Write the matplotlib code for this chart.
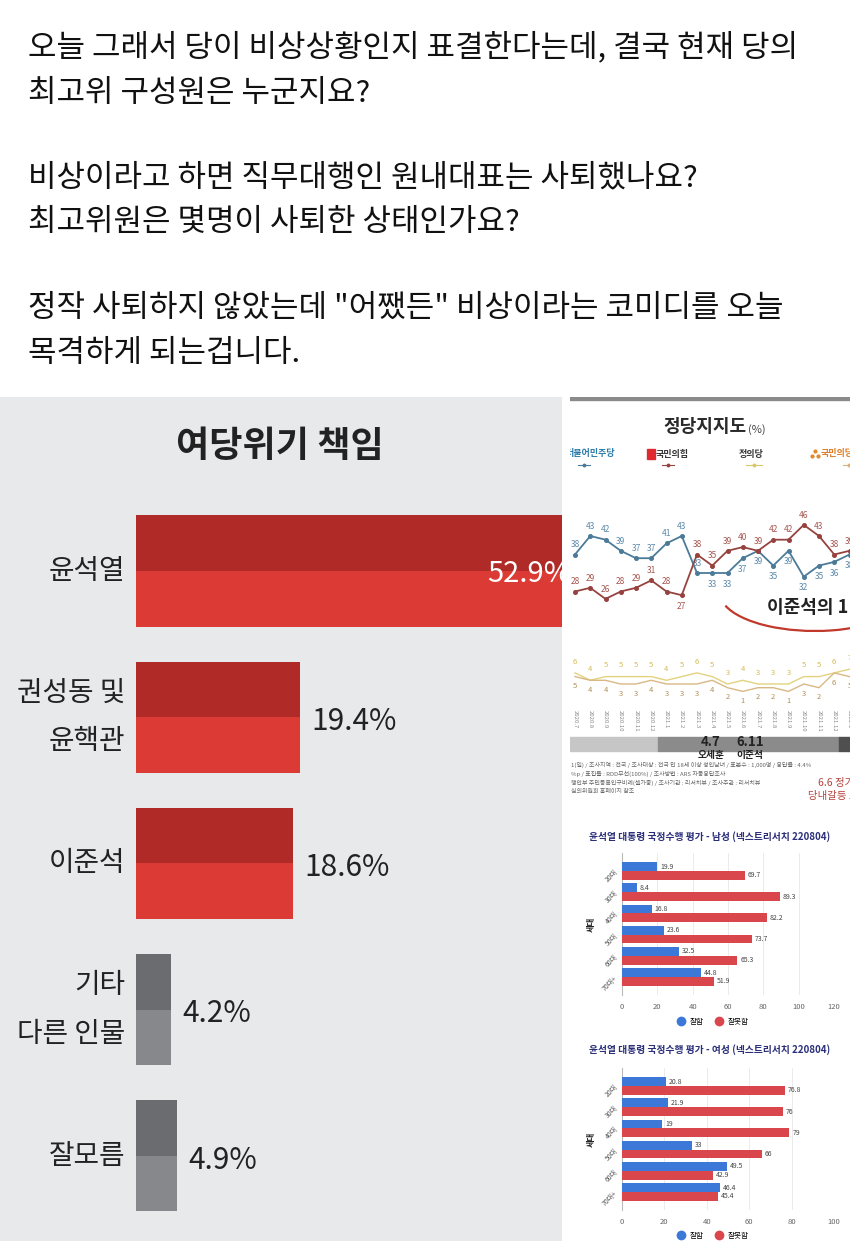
import matplotlib
matplotlib.use('Agg')
import matplotlib.pyplot as plt
from matplotlib.patches import Rectangle, Arc
from matplotlib.lines import Line2D

plt.rcParams['font.family'] = ['Noto Sans CJK KR', 'DejaVu Sans']

W, H = 850, 1241

# ---- post text ----
post_lines = [
    '오늘 그래서 당이 비상상황인지 표결한다는데, 결국 현재 당의',
    '최고위 구성원은 누군지요?',
    '비상이라고 하면 직무대행인 원내대표는 사퇴했나요?',
    '최고위원은 몇명이 사퇴한 상태인가요?',
    '정작 사퇴하지 않았는데 "어쨌든" 비상이라는 코미디를 오늘',
    '목격하게 되는겁니다.',
]
post_y = [47, 93, 178, 222, 308, 354]

# ---- left chart: 여당위기 책임 ----
resp_title = '여당위기 책임'
resp_labels = ['윤석열', '권성동 및\n윤핵관', '이준석', '기타\n다른 인물', '잘모름']
resp_values = [52.9, 19.4, 18.6, 4.2, 4.9]
resp_red = [True, True, True, False, False]

# ---- party support line chart ----
months = ['2020.7', '2020.8', '2020.9', '2020.10', '2020.11', '2020.12',
          '2021.1', '2021.2', '2021.3', '2021.4', '2021.5', '2021.6',
          '2021.7', '2021.8', '2021.9', '2021.10', '2021.11', '2021.12', '2022.1']
minjoo = [38, 43, 42, 39, 37, 37, 41, 43, 33, 33, 33, 37, 39, 35, 39, 32, 35, 36, 38]
ppp = [28, 29, 26, 28, 29, 31, 28, 27, 38, 35, 39, 40, 39, 42, 42, 46, 43, 38, 39]
justice = [6, 4, 5, 5, 5, 5, 4, 5, 6, 5, 3, 4, 3, 3, 3, 5, 5, 6, 7]
people = [5, 4, 4, 3, 3, 4, 3, 3, 3, 4, 2, 1, 2, 2, 1, 3, 2, 6, 5]

# ---- approval by age ----
ages = ['20대', '30대', '40대', '50대', '60대', '70대+']
male_good = [19.9, 8.4, 16.8, 23.6, 32.5, 44.8]
male_bad = [69.7, 89.3, 82.2, 73.7, 65.3, 51.9]
female_good = [20.8, 21.9, 19, 33, 49.5, 46.4]
female_bad = [76.8, 76, 79, 66, 42.9, 45.4]


def px_axes(x, y, w, h, **kw):
    return fig.add_axes([x / W, 1 - (y + h) / H, w / W, h / H], **kw)


fig = plt.figure(figsize=(W / 100, H / 100), dpi=100)

for s, y in zip(post_lines, post_y):
    fig.text(28 / W, 1 - y / H, s, fontsize=22.3, color='#111111', va='center', ha='left')

# left panel
axl = px_axes(0, 397, 562, H - 397, facecolor='#e8e9eb')
for sp in axl.spines.values():
    sp.set_visible(False)
axl.set_xticks([])
axl.set_yticks([])
scale = 8.45  # px per percent
x0 = 136
axl.set_xlim(-x0 / scale, (562 - x0) / scale)
step, c0 = 146.2, 571
axl.set_ylim((H - c0) / step, (397 - c0) / step)
bh = 0.76
for i, (lab, v, red) in enumerate(zip(resp_labels, resp_values, resp_red)):
    light = '#dc3b35' if red else '#87888b'
    dark = '#b02b28' if red else '#6a6c70'
    axl.barh(i, v, height=bh, color=light, zorder=2)
    axl.barh(i - bh / 4, v, height=bh / 2, color=dark, zorder=3)
    axl.text(-11 / scale, i, lab, ha='right', va='center', fontsize=20,
             color='#222222', linespacing=1.8, zorder=4)
    if v > axl.get_xlim()[1]:
        axl.text((487 - x0) / scale, i + 0.02, f'{v}%', ha='left', va='center', fontsize=21,
                 color='white', zorder=4, clip_on=True)
    else:
        axl.text(v + 11 / scale, i + 0.03, f'{v}%', ha='left', va='center', fontsize=21.5,
                 color='#222222', zorder=4)
fig.text(280 / W, 1 - 447 / H, resp_title, ha='center', va='center', fontsize=26,
         fontweight='bold', color='#222222')

# right panel background / decorations (pixel coords)
axp = px_axes(570, 397, 280, 418)
axp.set_xlim(570, 850)
axp.set_ylim(815, 397)
axp.axis('off')
axp.add_patch(Rectangle((570, 396), 280, 4, color='#8a8a8a', clip_on=True))
axp.text(747, 427, '정당지지도', ha='right', va='center', fontsize=13, fontweight='bold', color='#2a2a2a')
axp.text(748, 430, '(%)', ha='left', va='center', fontsize=8, color='#444444')
axp.text(615, 454, '더불어민주당', ha='right', va='center', fontsize=6.5, fontweight='bold',
         color='#2a7aa8', clip_on=True)
axp.add_patch(Rectangle((647, 449), 8, 10, color='#e0292e'))
axp.text(656, 454, '국민의힘', ha='left', va='center', fontsize=6.5, fontweight='bold', color='#333333')
axp.text(739, 455, '정의당', ha='left', va='center', fontsize=6.5, fontweight='bold', color='#333333')
axp.plot([812, 815, 818], [456, 451, 456], 'o', color='#e08a2a', markersize=2, clip_on=True)
axp.text(821, 454, '국민의당', ha='left', va='center', fontsize=6.5, fontweight='bold',
         color='#e07b25', clip_on=True)
for xa, xb, c in [(578, 590, '#4b7b98'), (662, 674, '#96433f'), (746, 762, '#d9c76a'), (843, 855, '#d8b27a')]:
    axp.add_line(Line2D([xa, xb], [465, 465], color=c, lw=0.8, clip_on=True))
    axp.plot([(xa + xb) / 2], [465], 'o', color=c, markersize=1.8, clip_on=True)

axp.add_patch(Arc((815, 593), 190, 76, theta1=0, theta2=172, color='#c0392b', lw=1.6))
axp.text(767, 608, '이준석의 1', ha='left', va='center', fontsize=13, fontweight='bold',
         color='#222222', clip_on=True)

axp.add_patch(Rectangle((570, 737), 88, 14, color='#c6c6c6'))
axp.add_patch(Rectangle((658, 737), 181, 14, color='#8b8b8b'))
axp.add_patch(Rectangle((839, 737), 12, 14, color='#4f4f4f', clip_on=True))
axp.text(711, 742, '4.7', ha='center', va='center', fontsize=9.5, fontweight='bold', color='#222222')
axp.text(750, 742, '6.11', ha='center', va='center', fontsize=9.5, fontweight='bold', color='#222222')
axp.text(711, 755, '오세훈', ha='center', va='center', fontsize=7, fontweight='bold', color='#222222')
axp.text(750, 755, '이준석', ha='center', va='center', fontsize=7, fontweight='bold', color='#222222')

notes = ['1(일) / 조사지역 : 전국 / 조사대상 : 전국 만 18세 이상 성인남녀 / 표본수 : 1,000명 / 응답률 : 4.4%',
         '%p / 표집틀 : RDD무선(100%) / 조사방법 : ARS 자동응답조사',
         '행안부 주민등록인구비례(셀가중) / 조사기관 : 리서치뷰 / 조사주관 : 리서치뷰',
         '심의위원회 홈페이지 참조']
for k, s in enumerate(notes):
    axp.text(571, 765 + 9 * k, s, ha='left', va='center', fontsize=4.3, color='#666666', clip_on=True)
axp.text(818, 783, '6.6 정가', ha='left', va='center', fontsize=7.5, color='#b5423a', clip_on=True)
axp.text(808, 796, '당내갈등 표', ha='left', va='center', fontsize=7.5, color='#b5423a', clip_on=True)

# line chart
axc = px_axes(570, 470, 280, 236)
axc.patch.set_alpha(0)
xs = list(range(len(months)))
axc.set_xlim(-5 / 15.25, 275 / 15.25)
axc.set_ylim(43 - 170 / 3.7, 43 + 66 / 3.7)
for sp in axc.spines.values():
    sp.set_visible(False)
axc.set_yticks([])
axc.set_xticks(xs)
axc.set_xticklabels(months, rotation=-90, fontsize=4.3, color='#888888')
axc.tick_params(axis='x', length=0, pad=3)

axc.plot(xs, justice, color='#e3d27e', lw=1.0)
axc.plot(xs, people, color='#d9b884', lw=1.0)
axc.plot(xs, minjoo, color='#4b7b98', lw=1.3, marker='o', markersize=2.6)
axc.plot(xs, ppp, color='#96433f', lw=1.3, marker='o', markersize=2.6)

for i in xs:
    up = minjoo[i] > ppp[i] or i == 8
    axc.annotate(str(minjoo[i]), (i, minjoo[i]), xytext=(0, 7 if up else -8),
                 textcoords='offset points', ha='center', va='center', fontsize=6, color='#5b88a8')
    down = i == 7
    axc.annotate(str(ppp[i]), (i, ppp[i]), xytext=(0, -8 if down else 7),
                 textcoords='offset points', ha='center', va='center', fontsize=6, color='#a5564f')
    axc.annotate(str(justice[i]), (i, justice[i]), xytext=(0, 8), textcoords='offset points',
                 ha='center', va='center', fontsize=5.5, color='#d4bb52')
    axc.annotate(str(people[i]), (i, people[i]), xytext=(0, -7), textcoords='offset points',
                 ha='center', va='center', fontsize=5.5, color='#b0905a')


def age_chart(y0, good, bad, xmax, title, title_y, leg_y):
    ax = px_axes(622, y0, 212, 142)
    pos = list(range(len(ages)))
    h = 0.42
    ax.barh([p - h / 2 for p in pos], good, height=h, color='#3b78d8', label='잘함', zorder=3)
    ax.barh([p + h / 2 for p in pos], bad, height=h, color='#d9464b', label='잘못함', zorder=3)
    for p, g, b in zip(pos, good, bad):
        ax.annotate(f'{g:g}', (g, p - h / 2), xytext=(2, 0), textcoords='offset points',
                    ha='left', va='center', fontsize=5, color='#444444')
        ax.annotate(f'{b:g}', (b, p + h / 2), xytext=(2, 0), textcoords='offset points',
                    ha='left', va='center', fontsize=5, color='#444444')
    ax.set_xlim(0, xmax)
    ax.set_ylim(5.85, -0.85)
    ax.set_xticks(range(0, xmax + 1, 20))
    ax.tick_params(axis='x', length=0, labelsize=5.5, labelcolor='#666666', pad=6)
    ax.set_yticks(pos)
    ax.set_yticklabels(ages, rotation=45, fontsize=5, color='#555555')
    ax.tick_params(axis='y', length=0, pad=2)
    ax.grid(axis='x', color='#e8e8e8', lw=0.6, zorder=0)
    for k in ['top', 'right', 'bottom']:
        ax.spines[k].set_visible(False)
    ax.spines['left'].set_color('#bbbbbb')
    ax.set_ylabel('세대', fontsize=6, fontweight='bold', color='#222222', labelpad=4)
    handles = [Line2D([], [], marker='o', ls='', color='#3b78d8', markersize=6, label='잘함'),
               Line2D([], [], marker='o', ls='', color='#d9464b', markersize=6, label='잘못함')]
    ax.legend(handles=handles, loc='center', bbox_to_anchor=(0.42, 1 - (leg_y - y0) / 142),
              ncol=2, frameon=False, fontsize=5.5, handletextpad=0.2, columnspacing=0.9)
    fig.text(710 / W, 1 - title_y / H, title, ha='center', va='center', fontsize=7,
             fontweight='bold', color='#2b2f7a')


age_chart(853, male_good, male_bad, 120,
          '윤석열 대통령 국정수행 평가 - 남성 (넥스트리서치 220804)', 837, 1022)
age_chart(1068, female_good, female_bad, 100,
          '윤석열 대통령 국정수행 평가 - 여성 (넥스트리서치 220804)', 1050, 1236)

fig.savefig('out.png', dpi=100)
